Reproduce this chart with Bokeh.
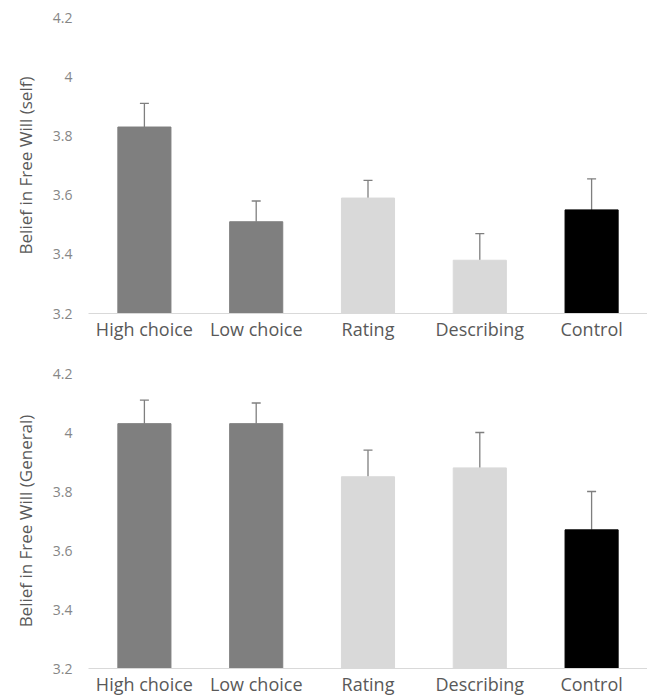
from bokeh.plotting import figure
from bokeh.layouts import column
from bokeh.models import ColumnDataSource, FixedTicker, CustomJSTickFormatter, Whisker, TeeHead, Range1d, FactorRange
from bokeh.embed import file_html
from bokeh.resources import INLINE

categories = ["High choice", "Low choice", "Rating", "Describing", "Control"]
bar_colors = ["#7f7f7f", "#7f7f7f", "#d9d9d9", "#d9d9d9", "#000000"]
self_means = [3.83, 3.51, 3.59, 3.38, 3.55]
self_err = [0.08, 0.07, 0.06, 0.09, 0.105]
general_means = [4.03, 4.03, 3.85, 3.88, 3.67]
general_err = [0.08, 0.07, 0.09, 0.12, 0.13]
y_ticks = [3.2, 3.4, 3.6, 3.8, 4.0, 4.2]
y_titles = ["Belief in Free Will (self)", "Belief in Free Will (General)"]

FONT = "Open Sans"


def make_panel(means, errs, title, height, top_border, bottom_border):
    src = ColumnDataSource(dict(
        cat=categories,
        mean=means,
        upper=[m + e for m, e in zip(means, errs)],
        color=bar_colors,
    ))
    p = figure(x_range=FactorRange(*categories, range_padding=0),
               y_range=Range1d(3.2, 4.2),
               width=647, height=height, output_backend="svg", toolbar_location=None,
               min_border_left=88, min_border_right=0,
               min_border_top=top_border, min_border_bottom=bottom_border)
    p.vbar(x="cat", top="mean", bottom=3.2, width=0.475, color="color", source=src)
    w = Whisker(base="cat", lower="mean", upper="upper", source=src,
                line_color="#7f7f7f", line_width=1.3,
                upper_head=TeeHead(size=9, line_color="#7f7f7f", line_width=1.3),
                lower_head=None)
    p.add_layout(w)
    p.outline_line_color = None
    p.xgrid.grid_line_color = None
    p.ygrid.grid_line_color = None
    p.background_fill_color = "white"
    p.border_fill_color = "white"

    p.yaxis.ticker = FixedTicker(ticks=y_ticks)
    p.yaxis.formatter = CustomJSTickFormatter(code="return tick.toFixed(1).replace(/\\.0$/, '');")
    p.yaxis.axis_line_color = None
    p.yaxis.major_tick_line_color = None
    p.yaxis.minor_tick_line_color = None
    p.yaxis.major_tick_in = 0
    p.yaxis.major_tick_out = 0
    p.yaxis.major_label_standoff = 16
    p.yaxis.major_label_text_font = FONT
    p.yaxis.major_label_text_font_size = "14px"
    p.yaxis.major_label_text_color = "#868686"
    p.yaxis.axis_label = title
    p.yaxis.axis_label_text_font = FONT
    p.yaxis.axis_label_text_font_size = "17px"
    p.yaxis.axis_label_text_font_style = "normal"
    p.yaxis.axis_label_text_color = "#595959"
    p.yaxis.axis_label_standoff = 13

    p.xaxis.axis_line_color = "#d9d9d9"
    p.xaxis.major_tick_line_color = None
    p.xaxis.minor_tick_line_color = None
    p.xaxis.major_tick_in = 0
    p.xaxis.major_tick_out = 0
    p.xaxis.major_label_standoff = 3
    p.xaxis.major_label_text_font = FONT
    p.xaxis.major_label_text_font_size = "18px"
    p.xaxis.major_label_text_color = "#595959"
    return p


p1 = make_panel(self_means, self_err, y_titles[0], 343, 17, 30)
p2 = make_panel(general_means, general_err, y_titles[1], 355, 30, 28)

layout = column(p1, p2, spacing=0)
open("out.html", "w").write(file_html(layout, INLINE))
